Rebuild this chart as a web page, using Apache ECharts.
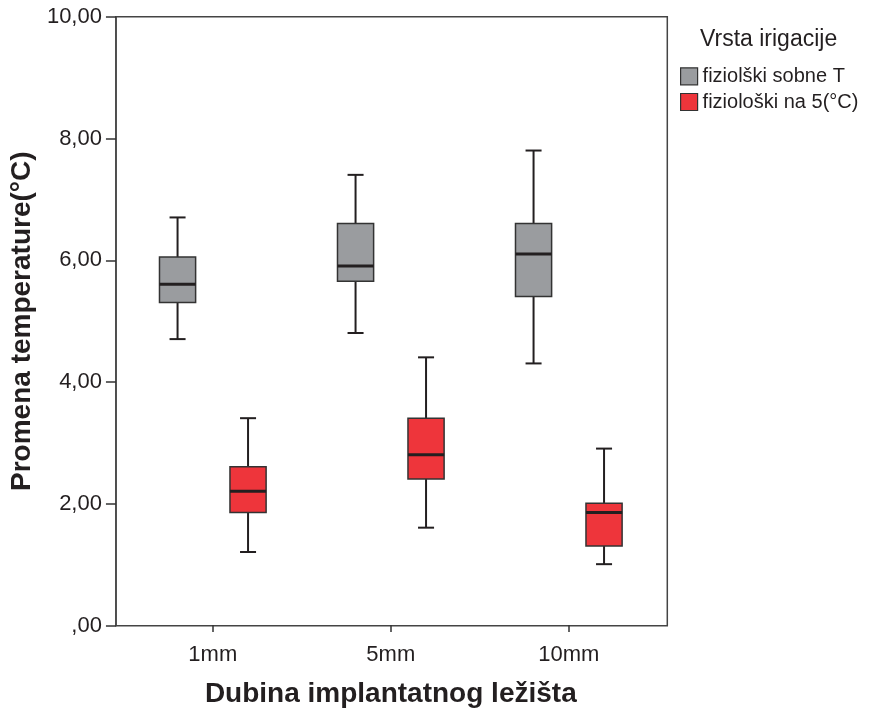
<!DOCTYPE html>
<html>
<head>
<meta charset="utf-8">
<script src="https://cdn.jsdelivr.net/npm/echarts@6/dist/echarts.min.js"></script>
<style>html,body{margin:0;padding:0;background:#fff}#c{width:873px;height:713px}</style>
</head>
<body>
<div id="c"></div>
<script>
// ---- data ----
const categories = ['1mm', '5mm', '10mm'];
const seriesNames = ['fiziolški sobne T', 'fiziološki na 5(°C)'];
// per category: [min, Q1, median, Q3, max]
const sobneT = [
  [4.7, 5.3, 5.6, 6.05, 6.7],
  [4.8, 5.65, 5.9, 6.6, 7.4],
  [4.3, 5.4, 6.1, 6.6, 7.8]
];
const na5C = [
  [1.2, 1.85, 2.2, 2.6, 3.4],
  [1.6, 2.4, 2.8, 3.4, 4.4],
  [1.0, 1.3, 1.85, 2.0, 2.9]
];
const yTicks = [0, 2, 4, 6, 8, 10];

// ---- style ----
const FONT = 'Liberation Sans, Arial, sans-serif';
const colors = ['#9a9c9f', '#ee353b'];
const OFFSET_FRAC = 0.198; // box offset from category centre, fraction of band
const BOX_FRAC = 0.203;
const CAP_FRAC = 0.09;

function makeRender(side) {
  return function (params, api) {
    const ci = api.value(0);
    const band = api.size([1, 0])[0];
    const cx = api.coord([ci, 0])[0] + side * band * OFFSET_FRAC;
    const yMin = api.coord([ci, api.value(1)])[1];
    const yQ1 = api.coord([ci, api.value(2)])[1];
    const yMed = api.coord([ci, api.value(3)])[1];
    const yQ3 = api.coord([ci, api.value(4)])[1];
    const yMax = api.coord([ci, api.value(5)])[1];
    const hw = band * BOX_FRAC / 2;
    const cw = band * CAP_FRAC / 2;
    const lineStyle = { stroke: '#231f20', lineWidth: 2 };
    return {
      type: 'group',
      children: [
        { type: 'line', shape: { x1: cx, y1: yMin, x2: cx, y2: yQ1 }, style: lineStyle },
        { type: 'line', shape: { x1: cx, y1: yQ3, x2: cx, y2: yMax }, style: lineStyle },
        { type: 'line', shape: { x1: cx - cw, y1: yMin, x2: cx + cw, y2: yMin }, style: lineStyle },
        { type: 'line', shape: { x1: cx - cw, y1: yMax, x2: cx + cw, y2: yMax }, style: lineStyle },
        { type: 'rect', shape: { x: cx - hw, y: yQ3, width: hw * 2, height: yQ1 - yQ3 },
          style: { fill: api.visual('color'), stroke: '#333', lineWidth: 1.5 } },
        { type: 'line', shape: { x1: cx - hw, y1: yMed, x2: cx + hw, y2: yMed },
          style: { stroke: '#231f20', lineWidth: 3 } }
      ]
    };
  };
}

function toData(stats) {
  return stats.map((s, i) => [i].concat(s));
}

const chart = echarts.init(document.getElementById('c'), null, { renderer: 'canvas' });
const plotTop = 16.7, plotH = 609;
chart.setOption({
  animation: false,
  backgroundColor: '#fff',
  title: {
    text: 'Vrsta irigacije',
    left: 700, top: 28, padding: 0,
    textStyle: { fontFamily: FONT, fontSize: 23, fontWeight: 'normal', color: '#231f20' }
  },
  legend: {
    data: seriesNames,
    orient: 'vertical',
    left: 680, top: 65.3,
    padding: 0,
    itemWidth: 17, itemHeight: 17, itemGap: 3.7,
    icon: 'rect',
    itemStyle: { borderColor: '#333', borderWidth: 1.2 },
    textStyle: { fontFamily: FONT, fontSize: 20, color: '#231f20', lineHeight: 22 }
  },
  grid: [
    { left: 114.3, top: plotTop, width: 553, height: plotH, show: true, borderColor: '#444', borderWidth: 1.5, containLabel: false },
    { left: 123.8, top: plotTop, width: 534, height: plotH, containLabel: false }
  ],
  xAxis: [
    { gridIndex: 0, type: 'value', show: false, min: 0, max: 1 },
    {
      gridIndex: 1, type: 'category', data: categories,
      axisLine: { show: false },
      axisTick: { show: true, alignWithLabel: true, length: 7, lineStyle: { color: '#333', width: 1.5 } },
      axisLabel: { margin: 19, fontFamily: FONT, fontSize: 22, color: '#231f20' },
      name: 'Dubina implantatnog ležišta', nameLocation: 'middle', nameGap: 55,
      nameTextStyle: { fontFamily: FONT, fontSize: 28, fontWeight: 'bold', color: '#231f20' }
    }
  ],
  yAxis: [
    {
      gridIndex: 0, type: 'value', min: 0, max: 10, interval: 2,
      axisLine: { show: true, lineStyle: { color: '#444', width: 1.5 } },
      axisTick: { show: true, length: 10, lineStyle: { color: '#333', width: 1.5 } },
      splitLine: { show: false },
      axisLabel: {
        margin: 14, fontFamily: FONT, fontSize: 22, color: '#231f20',
        formatter: v => yTicks.indexOf(v) >= 0 ? (v === 0 ? ',00' : v.toFixed(2).replace('.', ',')) : ''
      },
      name: 'Promena temperature(°C)', nameLocation: 'middle', nameGap: 79,
      nameTextStyle: { fontFamily: FONT, fontSize: 28, fontWeight: 'bold', color: '#231f20' }
    },
    { gridIndex: 1, type: 'value', min: 0, max: 10, show: false }
  ],
  series: [
    {
      name: seriesNames[0], type: 'custom', xAxisIndex: 1, yAxisIndex: 1,
      itemStyle: { color: colors[0] },
      encode: { x: 0, y: [1, 2, 3, 4, 5] },
      renderItem: makeRender(-1),
      data: toData(sobneT)
    },
    {
      name: seriesNames[1], type: 'custom', xAxisIndex: 1, yAxisIndex: 1,
      itemStyle: { color: colors[1] },
      encode: { x: 0, y: [1, 2, 3, 4, 5] },
      renderItem: makeRender(1),
      data: toData(na5C)
    }
  ]
});
</script>
</body>
</html>
